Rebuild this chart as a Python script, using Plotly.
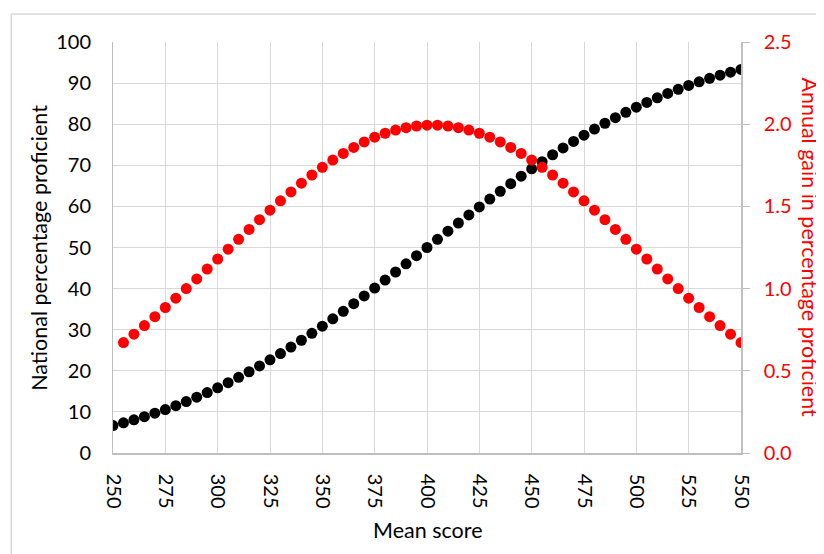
import plotly.graph_objects as go

# Mean scores (x) for the national percentage proficient series
mean_score = list(range(250, 555, 5))
pct_proficient = [
    6.68, 7.35, 8.08, 8.85, 9.68, 10.56, 11.51, 12.51, 13.57, 14.69,
    15.87, 17.11, 18.41, 19.77, 21.19, 22.66, 24.20, 25.78, 27.43, 29.12,
    30.85, 32.64, 34.46, 36.32, 38.21, 40.13, 42.07, 44.04, 46.02, 48.01,
    50.00, 51.99, 53.98, 55.96, 57.93, 59.87, 61.79, 63.68, 65.54, 67.36,
    69.15, 70.88, 72.57, 74.22, 75.80, 77.34, 78.81, 80.23, 81.59, 82.89,
    84.13, 85.31, 86.43, 87.49, 88.49, 89.44, 90.32, 91.15, 91.92, 92.65,
    93.32,
]

# Mean scores (x) for the annual gain series
gain_score = list(range(255, 555, 5))
annual_gain = [
    0.672, 0.723, 0.775, 0.829, 0.885, 0.942, 1.000, 1.059, 1.119, 1.180,
    1.240, 1.300, 1.360, 1.419, 1.477, 1.534, 1.588, 1.641, 1.691, 1.738,
    1.782, 1.822, 1.859, 1.892, 1.921, 1.945, 1.964, 1.979, 1.989, 1.994,
    1.994, 1.989, 1.979, 1.964, 1.945, 1.921, 1.892, 1.859, 1.822, 1.782,
    1.738, 1.691, 1.641, 1.588, 1.534, 1.477, 1.419, 1.360, 1.300, 1.240,
    1.180, 1.119, 1.059, 1.000, 0.942, 0.885, 0.829, 0.775, 0.723, 0.672,
]

x_ticks = [250, 275, 300, 325, 350, 375, 400, 425, 450, 475, 500, 525, 550]

FONT = "Lato, Carlito, Calibri, sans-serif"
GRID = "#d9d9d9"
AXIS = "#bfbfbf"
RED = "#ff0000"
TICK_SIZE = 20
TITLE_SIZE = 21.5

fig = go.Figure()
fig.add_trace(go.Scatter(
    x=mean_score, y=pct_proficient, mode="markers",
    marker=dict(color="#000000", size=11),
    name="National percentage proficient", yaxis="y",
))
fig.add_trace(go.Scatter(
    x=gain_score, y=annual_gain, mode="markers",
    marker=dict(color=RED, size=11),
    name="Annual gain in percentage proficient", yaxis="y2",
))

fig.update_layout(
    width=816, height=546,
    margin=dict(l=105, r=83, t=34, b=101),
    paper_bgcolor="white", plot_bgcolor="white",
    showlegend=False,
    font=dict(family=FONT, size=TICK_SIZE, color="#000000"),
    xaxis=dict(
        range=[250, 550], tickvals=x_ticks, ticktext=[str(v) for v in x_ticks],
        tickangle=90, showgrid=True, gridcolor=GRID, gridwidth=1,
        showline=True, linecolor=AXIS, linewidth=1.5, ticks="",
        zeroline=False, tickfont=dict(size=TICK_SIZE), ticklabelstandoff=15,
    ),
    yaxis=dict(
        range=[0, 100], dtick=10, showgrid=True, gridcolor=GRID, gridwidth=1,
        showline=True, linecolor=AXIS, linewidth=1, ticks="",
        zeroline=False, tickfont=dict(size=TICK_SIZE), ticklabelstandoff=17,
    ),
    yaxis2=dict(
        range=[0, 2.5], dtick=0.5, tickformat=".1f", overlaying="y", side="right",
        showgrid=False, showline=True, linecolor=AXIS, linewidth=1.5,
        ticks="outside", ticklen=7, tickcolor=AXIS, zeroline=False,
        tickfont=dict(size=TICK_SIZE, color=RED), ticklabelstandoff=10,
    ),
    shapes=[
        dict(type="line", xref="paper", yref="paper", x0=-0.162, x1=1.2,
             y0=1.068, y1=1.068, line=dict(color="#d9d9d9", width=1.5)),
        dict(type="line", xref="paper", yref="paper", x0=-0.162, x1=-0.162,
             y0=1.068, y1=-0.3, line=dict(color="#d9d9d9", width=1.5)),
    ],
    annotations=[
        dict(text="National percentage proficient", xref="paper", yref="paper",
             x=-0.119, y=0.5, textangle=-90, showarrow=False,
             xanchor="center", yanchor="middle", font=dict(size=TITLE_SIZE)),
        dict(text="Annual gain in percentage proficient", xref="paper", yref="paper",
             x=1.110, y=0.5, textangle=90, showarrow=False,
             xanchor="center", yanchor="middle", font=dict(size=TITLE_SIZE, color=RED)),
        dict(text="Mean score", xref="paper", yref="paper",
             x=0.5, y=-0.187, showarrow=False,
             xanchor="center", yanchor="middle", font=dict(size=TITLE_SIZE)),
    ],
)

fig.write_html("out.html")
